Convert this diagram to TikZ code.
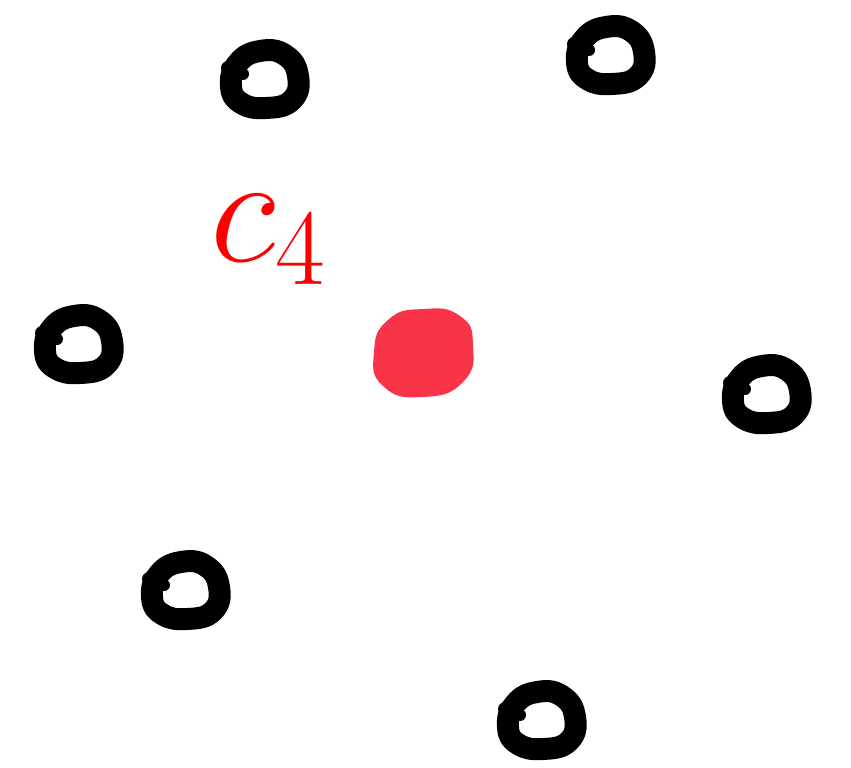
\RequirePackage{fix-cm}
\documentclass[tikz,border=0pt]{standalone}
\usepackage{tikz}
\usepackage{xcolor}
\definecolor{cwBlob}{RGB}{250,52,72}
\definecolor{cwLabel}{RGB}{255,0,0}

\tikzset{
    ring/.style={draw=black, line width=12.5pt, line join=round},
    blob/.style={fill=cwBlob, draw=none}
}

\begin{document}
\begin{tikzpicture}[x=0.02cm, y=-0.02cm]
    \useasboundingbox (0,0) rectangle (851,767);

    % hand drawn rings
    \foreach \cx/\cy in {264/80, 610/56, 78/345, 766/395, 185/591, 541/721}{
        \draw[ring, shift={(\cx,\cy)}] plot[smooth cycle, tension=0.8]
            coordinates {(-33,6) (-26,-17) (-4,-29) (21,-25) (34,-4) (28,20) (2,28) (-23,23)};
        \fill[black, shift={(\cx,\cy)}] (-21,-6) circle (6);
        \fill[black, shift={(\cx,\cy)}] (-36,-12) circle (7);
    }

    % centroid
    \fill[blob] plot[smooth cycle, tension=0.9]
        coordinates {(374,352) (388,320) (423,309) (460,316) (473,345) (463,382) (422,397) (383,386)};

    \node[text=cwLabel, font=\fontsize{88}{88}\selectfont, inner sep=0pt] (lbl) at (268,240) {$c_4$};
\end{tikzpicture}
\end{document}
